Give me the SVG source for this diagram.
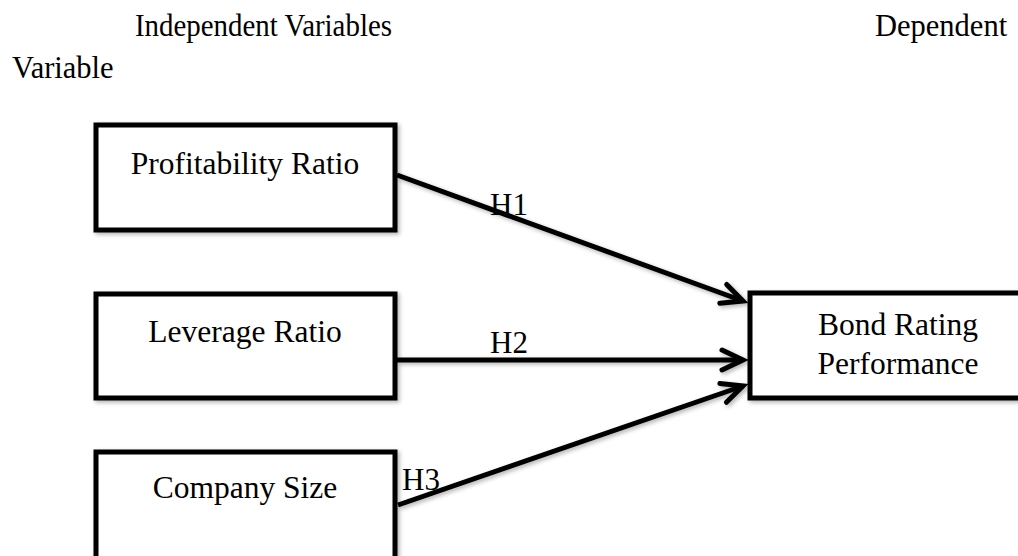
<svg xmlns="http://www.w3.org/2000/svg" width="1018" height="556" viewBox="0 0 1018 556">
<style>
text{font-family:"Liberation Serif","Times New Roman",serif;fill:#000}
.lbl{font-size:31.5px;text-anchor:middle}
.hdr{font-size:30.5px}
.h{font-size:31px}
.box{fill:#fff;stroke:#000;stroke-width:5;stroke-linejoin:miter}
.con{stroke:#000;stroke-width:5;fill:none}
</style>
<defs>
<filter id="sh" x="-10%" y="-10%" width="120%" height="130%">
<feDropShadow dx="2" dy="2" stdDeviation="2" flood-color="#000" flood-opacity="0.3"/>
</filter>
<marker id="arr" markerUnits="userSpaceOnUse" markerWidth="40" markerHeight="40" viewBox="-30 -20 40 40" refX="0" refY="0" orient="auto">
<path d="M-21,-10 L0,0 L-21,10" fill="none" stroke="#000" stroke-width="5" stroke-linecap="round" stroke-linejoin="miter"/>
</marker>
</defs>
<rect width="1018" height="556" fill="#fff"/>
<g id="header">
<text class="hdr" x="135" y="36" textLength="257" lengthAdjust="spacingAndGlyphs">Independent Variables</text>
<text class="hdr" x="875" y="36">Dependent</text>
<text class="hdr" x="12" y="78">Variable</text>
</g>
<g id="connectors" filter="url(#sh)">
<line class="con" x1="397" y1="175" x2="743" y2="301" marker-end="url(#arr)"/>
<line class="con" x1="397" y1="360" x2="743" y2="360" marker-end="url(#arr)"/>
<line class="con" x1="398" y1="505" x2="743" y2="386" marker-end="url(#arr)"/>
</g>
<g id="labels">
<text class="h" x="490" y="215">H1</text>
<text class="h" x="490" y="353">H2</text>
<text class="h" x="402" y="490">H3</text>
</g>
<g id="profitability">
<rect class="box" x="96" y="125" width="299" height="105" filter="url(#sh)"/>
<text class="lbl" x="245" y="174">Profitability Ratio</text>
</g>
<g id="leverage">
<rect class="box" x="96" y="294" width="299" height="104" filter="url(#sh)"/>
<text class="lbl" x="245" y="342">Leverage Ratio</text>
</g>
<g id="size">
<rect class="box" x="96" y="452" width="299" height="112" filter="url(#sh)"/>
<text class="lbl" x="245" y="498">Company Size</text>
</g>
<g id="bond">
<rect class="box" x="750" y="293" width="300" height="105" filter="url(#sh)"/>
<text class="lbl" x="898" y="335">Bond Rating</text>
<text class="lbl" x="898" y="374">Performance</text>
</g>
</svg>
